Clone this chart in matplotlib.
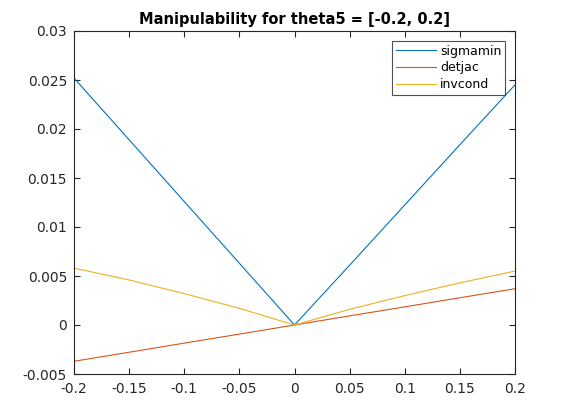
import matplotlib
matplotlib.use('Agg')
import matplotlib.pyplot as plt

# theta5 samples
theta5 = [-0.2, -0.15, -0.1, -0.05, 0.0, 0.05, 0.1, 0.15, 0.2]

# manipulability measures
sigmamin = [0.0252, 0.0189, 0.0126, 0.0063, 0.0, 0.0061, 0.01225, 0.0184, 0.0245]
detjac = [-0.0037, -0.00278, -0.00185, -0.00093, 0.0, 0.00093, 0.00185, 0.00278, 0.0037]
invcond = [0.0058, 0.0046, 0.0032, 0.0017, 0.0, 0.0016, 0.0030, 0.0043, 0.0055]

fig = plt.figure(figsize=(5.7, 4.2), dpi=100)
ax = fig.add_axes([74 / 570, 46 / 420, 441 / 570, 343 / 420])

ax.plot(theta5, sigmamin, color='#0072BD', linewidth=0.8, label='sigmamin')
ax.plot(theta5, detjac, color='#D95319', linewidth=0.8, label='detjac')
ax.plot(theta5, invcond, color='#EDB120', linewidth=0.8, label='invcond')

ax.set_xlim(-0.2, 0.2)
ax.set_ylim(-0.005, 0.03)
ax.set_xticks([-0.2, -0.15, -0.1, -0.05, 0, 0.05, 0.1, 0.15, 0.2])
ax.set_xticklabels(['-0.2', '-0.15', '-0.1', '-0.05', '0', '0.05', '0.1', '0.15', '0.2'])
ax.set_yticks([-0.005, 0, 0.005, 0.01, 0.015, 0.02, 0.025, 0.03])
ax.set_yticklabels(['-0.005', '0', '0.005', '0.01', '0.015', '0.02', '0.025', '0.03'])
ax.tick_params(direction='in', top=True, right=True, labelsize=10,
               colors='#262626', length=4)
ax.tick_params(axis='x', pad=6)
ax.tick_params(axis='y', pad=5)
for sp in ax.spines.values():
    sp.set_color('#262626')
    sp.set_linewidth(0.8)

ax.set_title('Manipulability for theta5 = [-0.2, 0.2]', fontsize=10.5,
             fontweight='bold', pad=5)

leg = ax.legend(loc='upper right', fontsize=9, frameon=True, fancybox=False,
                borderpad=0.3, labelspacing=0.3, handlelength=3.2,
                handletextpad=0.3, borderaxespad=0.8)
leg.get_frame().set_edgecolor('#262626')
leg.get_frame().set_linewidth(0.8)

plt.savefig('out.png', dpi=100, facecolor='white')
